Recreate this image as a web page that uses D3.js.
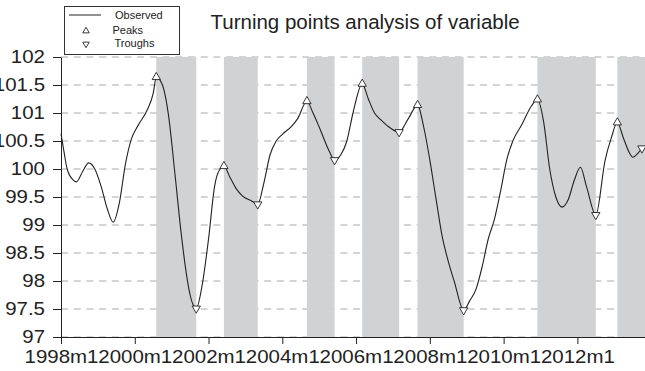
<!DOCTYPE html>
<html>
<head>
<meta charset="utf-8">
<script src="https://d3js.org/d3.v7.min.js"></script>
<style>
  body { margin: 0; background: #fff; }
  text { font-family: "Liberation Sans", Arial, sans-serif; fill: #222; }
</style>
</head>
<body>
<svg id="drawing_region"></svg>
<script>
// observed series (month label, value)
var months = ["1998m1","1998m2","1998m3","1998m5","1998m6","1998m8","1998m10","1998m12",
  "1999m2","1999m4","1999m6","1999m8","1999m10","1999m12","2000m2","2000m5","2000m7","2000m8",
  "2000m10","2000m12","2001m2","2001m4","2001m6","2001m7","2001m8","2001m9","2001m11","2002m1","2002m3","2002m4","2002m6",
  "2002m8","2002m10","2002m12","2003m3","2003m5","2003m7","2003m9","2003m11","2004m1","2004m4","2004m6","2004m9",
  "2004m11","2005m1","2005m4","2005m6","2005m8","2005m10","2005m12","2006m3","2006m5","2006m7","2006m9","2006m11","2007m3",
  "2007m6","2007m9","2007m11","2008m1","2008m3","2008m5","2008m7","2008m9","2008m12","2009m2","2009m4","2009m6","2009m8",
  "2009m10","2009m12","2010m2","2010m4","2010m7","2010m10","2010m12","2011m2","2011m4","2011m6","2011m8","2011m10",
  "2011m12","2012m2","2012m4","2012m7","2012m10","2012m12","2013m2","2013m4","2013m6","2013m7","2013m9","2013m10"];
var values = [100.63,100.3,100.0,99.8,99.77,99.95,100.11,100.0,
  99.7,99.3,99.05,99.4,100.1,100.55,100.77,101.05,101.35,101.64,
  101.5,100.95,99.95,98.9,98.05,97.75,97.57,97.51,97.95,98.75,99.7,99.92,100.05,
  99.85,99.65,99.52,99.43,99.37,99.75,100.25,100.5,100.62,100.76,100.9,101.21,
  101.0,100.75,100.35,100.16,100.25,100.5,101.0,101.52,101.25,101.0,100.88,100.78,100.66,
  100.9,101.14,100.75,100.16,99.47,98.8,98.35,97.98,97.48,97.65,97.85,98.25,98.75,
  99.1,99.6,100.16,100.5,100.8,101.12,101.24,100.85,100.0,99.5,99.32,99.45,
  99.8,100.03,99.68,99.18,100.15,100.55,100.83,100.55,100.28,100.21,100.3,100.37];

var peaks = ["2000m8","2002m6","2004m9","2006m3","2007m9","2010m12","2013m2"];
var troughs = ["2001m9","2003m5","2005m6","2007m3","2008m12","2012m7","2013m10"];

// shaded phases (peak to trough)
var bandStart = ["2000m8","2002m6","2004m9","2006m3","2007m9","2010m12","2013m2"];
var bandEnd = ["2001m9","2003m5","2005m6","2007m3","2008m12","2012m7","2013m11"];

var xTicks = ["1998m1","2000m1","2002m1","2004m1","2006m1","2008m1","2010m1","2012m1"];
var yTicks = [97, 97.5, 98, 98.5, 99, 99.5, 100, 100.5, 101, 101.5, 102];

var legendItems = ["Observed", "Peaks", "Troughs"];
var title = "Turning points analysis of variable";

// "1998m1" -> months since 1998m1
function monthIndex(s){
  var p = s.split("m");
  return (+p[0] - 1998) * 12 + (+p[1] - 1);
}

class TurningChart{
  constructor(config, data){
    this.config = config;
    this.data = data;
    this.init();
  }
  init(){
    this.svg = d3.select(this.config.parent)
      .attr('width', this.config.width)
      .attr('height', this.config.height);
    this.xscale = d3.scaleLinear()
      .domain([0, monthIndex("2013m11")])
      .range([61, 645]);
    this.yscale = d3.scaleLinear()
      .domain([97, 102])
      .range([337, 57]);
  }
  render(){
    const x = this.xscale, y = this.yscale, svg = this.svg;
    const lookup = new Map(this.data.map(d => [d.month, d.value]));

    // grid
    svg.append('g').selectAll('line')
      .data(yTicks)
      .join('line')
      .attr('x1', x.range()[0]).attr('x2', x.range()[1])
      .attr('y1', d => y(d)).attr('y2', d => y(d))
      .attr('stroke', '#aaa')
      .attr('stroke-dasharray', '7,5.7');

    // phase bands
    svg.append('g').selectAll('rect')
      .data(bandStart.map((s, i) => ({s: s, e: bandEnd[i]})))
      .join('rect')
      .attr('x', d => x(monthIndex(d.s)))
      .attr('width', d => x(monthIndex(d.e)) - x(monthIndex(d.s)))
      .attr('y', y(102))
      .attr('height', y(97) - y(102))
      .attr('fill', '#d1d2d4');

    // observed line
    const line = d3.line()
      .x(d => x(d.idx))
      .y(d => y(d.value))
      .curve(d3.curveMonotoneX);
    svg.append('path')
      .datum(this.data)
      .attr('d', line)
      .attr('fill', 'none')
      .attr('stroke', '#222')
      .attr('stroke-width', 1.1);

    // markers
    const tri = d3.symbol(d3.symbolTriangle, 30);
    svg.append('g').selectAll('path')
      .data(peaks)
      .join('path')
      .attr('d', tri)
      .attr('transform', d => `translate(${x(monthIndex(d))},${y(lookup.get(d))})`)
      .attr('fill', '#fff').attr('stroke', '#222').attr('stroke-width', 0.9);
    svg.append('g').selectAll('path')
      .data(troughs)
      .join('path')
      .attr('d', tri)
      .attr('transform', d => `translate(${x(monthIndex(d))},${y(lookup.get(d))}) rotate(180)`)
      .attr('fill', '#fff').attr('stroke', '#222').attr('stroke-width', 0.9);

    // axes
    const xaxis = d3.axisBottom(x)
      .tickValues(xTicks.map(monthIndex))
      .tickFormat((d, i) => xTicks[i])
      .tickSize(7)
      .tickSizeOuter(0)
      .tickPadding(7);
    const xg = svg.append('g')
      .attr('transform', `translate(0, ${y(97)})`)
      .call(xaxis);
    const yaxis = d3.axisLeft(y)
      .tickValues(yTicks)
      .tickFormat(d3.format('~g'))
      .tickSize(8)
      .tickSizeOuter(0)
      .tickPadding(8);
    const yg = svg.append('g')
      .attr('transform', `translate(${x(0)}, 0)`)
      .call(yaxis);
    // tick labels in the reference are a wide face: stretch a bit
    const sx = 1.17;
    [xg, yg].forEach(g => {
      g.select('.domain').attr('stroke', '#222');
      g.selectAll('.tick line').attr('stroke', '#222');
      g.selectAll('.tick text')
        .attr('font-size', 17.5)
        .attr('font-family', '"Liberation Sans", Arial, sans-serif')
        .attr('fill', '#222')
        .attr('x', function(){ return (+this.getAttribute('x') || 0) / sx; })
        .attr('transform', `scale(${sx},1)`);
    });

    // title
    svg.append('text')
      .attr('x', 210.5).attr('y', 29.3)
      .attr('font-size', 20.5)
      .text(title);

    // legend
    const lg = svg.append('g');
    lg.append('rect')
      .attr('x', 64.5).attr('y', 6.5)
      .attr('width', 115).attr('height', 48)
      .attr('fill', '#fff').attr('stroke', '#333');
    lg.append('line')
      .attr('x1', 69).attr('x2', 101)
      .attr('y1', 15).attr('y2', 15)
      .attr('stroke', '#222');
    const small = d3.symbol(d3.symbolTriangle, 18);
    lg.append('path').attr('d', small)
      .attr('transform', 'translate(86,31)')
      .attr('fill', '#fff').attr('stroke', '#222').attr('stroke-width', 0.9);
    lg.append('path').attr('d', small)
      .attr('transform', 'translate(86,44) rotate(180)')
      .attr('fill', '#fff').attr('stroke', '#222').attr('stroke-width', 0.9);
    lg.selectAll('text.item')
      .data(legendItems)
      .join('text')
      .attr('class', 'item')
      .attr('x', (d, i) => [115, 112.5, 114.5][i])
      .attr('y', (d, i) => [18.5, 34, 47][i])
      .attr('font-size', 11)
      .text(d => d);
  }
}

var data = months.map((m, i) => ({month: m, idx: monthIndex(m), value: values[i]}));
var config = { parent: '#drawing_region', width: 645, height: 371 };
const chart = new TurningChart(config, data);
chart.render();
</script>
</body>
</html>
